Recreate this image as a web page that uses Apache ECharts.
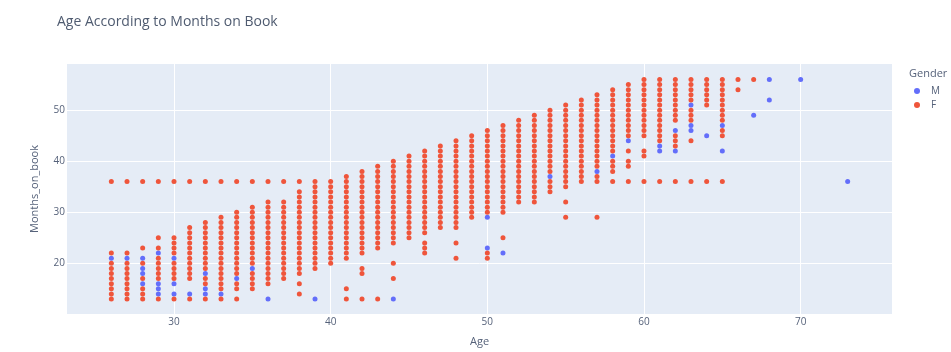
<!DOCTYPE html>
<html>
<head>
<meta charset="utf-8">
<script src="https://cdn.jsdelivr.net/npm/echarts@6/dist/echarts.min.js"></script>
<style>
  html, body { margin: 0; padding: 0; background: #ffffff; }
  #chart { width: 951px; height: 352px; }
</style>
</head>
<body>
<div id="chart"></div>
<script>
// Ages that hold a continuous run of Months_on_book values (every month from low to high)
const blockAges = [26, 27, 28, 29, 30, 31, 32, 33, 34, 35, 36, 37, 38, 39, 40, 41, 42, 43, 44, 45,
                   46, 47, 48, 49, 50, 51, 52, 53, 54, 55, 56, 57, 58, 59, 60, 61, 62, 63, 64, 65];
const blockLow  = [13, 13, 13, 13, 16, 17, 13, 13, 15, 15, 16, 17, 18, 19, 20, 21, 22, 23, 24, 25,
                   26, 27, 27, 29, 30, 30, 32, 32, 34, 35, 36, 36, 38, 45, 45, 44, 48, 48, 51, 45];
const blockHigh = [22, 22, 21, 23, 25, 27, 28, 29, 30, 31, 32, 32, 34, 36, 36, 37, 38, 39, 40, 41,
                   42, 43, 44, 45, 46, 47, 48, 49, 50, 51, 52, 53, 54, 55, 56, 56, 56, 56, 56, 56];

// Isolated F observations outside the runs: [Age, Months_on_book]
const femaleExtra = [
  [26, 36], [27, 36], [28, 23], [28, 36], [29, 25], [29, 36], [30, 13], [30, 36], [31, 13], [31, 36],
  [32, 36], [33, 36], [34, 13], [34, 36], [35, 36], [36, 36], [37, 36], [38, 16], [38, 14], [38, 36],
  [41, 15], [41, 13], [42, 19], [42, 18], [42, 13], [43, 13], [44, 20], [44, 17], [46, 24], [46, 23],
  [46, 22], [48, 24], [48, 21], [50, 22], [50, 21], [51, 25], [55, 32], [55, 29], [57, 29], [58, 36],
  [59, 42], [59, 40], [59, 39], [59, 36], [60, 42], [60, 41], [60, 36], [61, 36], [62, 45], [62, 44],
  [62, 43], [62, 36], [63, 44], [63, 36], [64, 36], [65, 36], [66, 56], [66, 54], [67, 56]
];

// M observations: [Age, Months_on_book]
const male = [
  [26, 21], [27, 21], [28, 21], [28, 19], [28, 18], [28, 16], [29, 22], [29, 16], [29, 15], [29, 14],
  [30, 21], [30, 16], [30, 14], [31, 14], [32, 18], [32, 15], [32, 14], [33, 14], [34, 17], [35, 19],
  [36, 13], [39, 13], [44, 13], [50, 29], [50, 23], [51, 22], [54, 37], [57, 38], [58, 41], [59, 44],
  [61, 43], [61, 42], [62, 46], [62, 42], [63, 51], [63, 47], [63, 46], [64, 45], [65, 47], [65, 42],
  [67, 49], [68, 56], [68, 52], [70, 56], [73, 36]
];

const genders = ['M', 'F'];

// Build the F point list: each run minus the cells taken by M, plus the isolated points
const maleKeys = new Set(male.map(p => p[0] + ':' + p[1]));
const female = [];
blockAges.forEach((age, i) => {
  for (let m = blockLow[i]; m <= blockHigh[i]; m++) {
    if (!maleKeys.has(age + ':' + m)) female.push([age, m]);
  }
});
femaleExtra.forEach(p => female.push(p));

const textColor = '#56627a';
const font = '"Open Sans", "DejaVu Sans", sans-serif';

const chart = echarts.init(document.getElementById('chart'), null, { renderer: 'canvas' });
chart.setOption({
  animation: false,
  backgroundColor: '#ffffff',
  textStyle: { fontFamily: font },
  title: {
    text: 'Age According to Months on Book',
    left: 52,
    top: 10,
    textStyle: { fontFamily: font, fontSize: 14, fontWeight: 'normal', color: '#4f5b70' }
  },
  graphic: [{
    type: 'text',
    left: 909,
    top: 68,
    style: { text: 'Gender', font: '11px ' + font, fill: textColor }
  }],
  legend: {
    data: genders,
    orient: 'vertical',
    left: 909,
    top: 81,
    itemWidth: 18,
    itemHeight: 6,
    itemGap: 4,
    icon: 'circle',
    textStyle: { fontFamily: font, fontSize: 10, color: textColor, lineHeight: 10 }
  },
  grid: { left: 67, top: 64, width: 825, height: 253, show: true, backgroundColor: '#E5ECF6', borderWidth: 0 },
  xAxis: {
    type: 'value',
    min: 23.17,
    max: 75.83,
    splitNumber: 5,
    name: 'Age',
    nameLocation: 'middle',
    nameGap: 22,
    nameTextStyle: { fontFamily: font, fontSize: 11, color: textColor },
    axisLine: { show: false },
    axisTick: { show: false },
    axisLabel: { margin: 3, fontSize: 10, color: textColor, fontFamily: font, showMinLabel: false, showMaxLabel: false },
    splitLine: { show: true, showMinLine: false, showMaxLine: false, lineStyle: { color: '#ffffff', width: 1 } }
  },
  yAxis: {
    type: 'value',
    min: 10.07,
    max: 59.04,
    splitNumber: 5,
    name: 'Months_on_book',
    nameLocation: 'middle',
    nameGap: 27,
    nameTextStyle: { fontFamily: font, fontSize: 11, color: textColor },
    axisLine: { show: false },
    axisTick: { show: false },
    axisLabel: { margin: 2, fontSize: 10, color: textColor, fontFamily: font, showMinLabel: false, showMaxLabel: false },
    splitLine: { show: true, showMinLine: false, showMaxLine: false, lineStyle: { color: '#ffffff', width: 1 } }
  },
  series: [
    {
      name: 'M',
      type: 'scatter',
      data: male,
      symbol: 'circle',
      symbolSize: 5,
      itemStyle: { color: '#636EFA', opacity: 1 }
    },
    {
      name: 'F',
      type: 'scatter',
      data: female,
      symbol: 'circle',
      symbolSize: 5,
      itemStyle: { color: '#EF553B', opacity: 1 }
    }
  ]
});
</script>
</body>
</html>
